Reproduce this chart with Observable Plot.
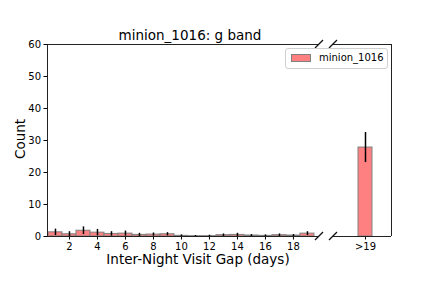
<!DOCTYPE html>
<html>
<head>
<meta charset="utf-8">
<script src="https://cdn.jsdelivr.net/npm/d3@7"></script>
<script src="https://cdn.jsdelivr.net/npm/@observablehq/plot@0.6"></script>
<style>
  body { margin: 0; background: white; font-family: "DejaVu Sans", sans-serif; }
  #wrap { position: relative; width: 423px; height: 282px; overflow: hidden; }
  #wrap > svg, #wrap > div { position: absolute; }
  .txt { color: #000; white-space: nowrap; line-height: 16px; }
</style>
</head>
<body>
<div id="wrap"></div>
<script>
const title = "minion_1016: g band";
const xLabel = "Inter-Night Visit Gap (days)";
const yLabel = "Count";
const seriesName = "minion_1016";

const days = [1,2,3,4,5,6,7,8,9,10,11,12,13,14,15,16,17,18,19];
const counts = [1.3,0.7,1.8,1.2,0.8,0.9,0.5,0.6,0.7,0.2,0.1,0.1,0.4,0.5,0.3,0.2,0.4,0.3,0.9];
const errs   = [1.0,0.8,1.2,1.0,0.7,0.8,0.5,0.5,0.5,0.3,0.2,0.3,0.4,0.5,0.3,0.3,0.4,0.3,0.6];
const overPos = [20];
const overCounts = [27.8];
const overErrs = [4.7];
const overTickLabel = ">19";

const xLeftDomain = [0.43, 19.86];
const xLeftTicks = [2,4,6,8,10,12,14,16,18];
const xRightDomain = [17.64, 21.86];
const yDomain = [0, 60];
const yTicks = [0,10,20,30,40,50,60];

const left = days.map((d,i) => ({day: d, count: counts[i], err: errs[i]}));
const right = overPos.map((d,i) => ({day: d, count: overCounts[i], err: overErrs[i]}));

const barFill = "#ff8080";
const barStroke = "#808080";
const common = {
  height: 282, marginTop: 44, marginBottom: 46,
  style: "background: transparent; font-family: 'DejaVu Sans', sans-serif; font-size: 10px; color: #000; overflow: visible;",
  y: {domain: yDomain, ticks: yTicks, axis: null}
};

const pLeft = Plot.plot({
  ...common,
  width: 330, marginLeft: 47, marginRight: 11,
  x: {domain: xLeftDomain, axis: null},
  marks: [
    Plot.rectY(left, {x1: d => d.day - 0.5, x2: d => d.day + 0.5, y: "count", fill: barFill, stroke: barStroke, strokeWidth: 1, inset: 0}),
    Plot.ruleX(left, {x: "day", y1: d => d.count - d.err, y2: d => d.count + d.err, stroke: "black", strokeWidth: 1.5, clip: true}),
    Plot.axisY({ticks: yTicks, tickSize: 3.5, tickPadding: 3, label: null, fontSize: 10}),
    Plot.axisX({ticks: xLeftTicks, tickSize: 3.5, tickPadding: 3, label: null, fontSize: 10}),
    Plot.ruleY([yDomain[0]], {stroke: "#222", strokeWidth: 1}),
    Plot.ruleY([yDomain[1]], {stroke: "#222", strokeWidth: 1}),
    Plot.ruleX([xLeftDomain[0]], {stroke: "#222", strokeWidth: 1})
  ]
});
pLeft.style.left = "0px"; pLeft.style.top = "0px";

const pRight = Plot.plot({
  ...common,
  width: 423, marginLeft: 332, marginRight: 32,
  x: {domain: xRightDomain, axis: null},
  marks: [
    Plot.rectY(right, {x1: d => d.day - 0.5, x2: d => d.day + 0.5, y: "count", fill: barFill, stroke: barStroke, strokeWidth: 1, inset: 0}),
    Plot.ruleX(right, {x: "day", y1: d => d.count - d.err, y2: d => d.count + d.err, stroke: "black", strokeWidth: 1.5, clip: true}),
    Plot.axisX({ticks: overPos, tickFormat: () => overTickLabel, tickSize: 3.5, tickPadding: 3, label: null, fontSize: 10}),
    Plot.ruleY([yDomain[0]], {stroke: "#222", strokeWidth: 1}),
    Plot.ruleY([yDomain[1]], {stroke: "#222", strokeWidth: 1}),
    Plot.ruleX([xRightDomain[1]], {stroke: "#222", strokeWidth: 1})
  ]
});
pRight.style.left = "0px"; pRight.style.top = "0px";

const wrap = document.getElementById("wrap");
wrap.appendChild(pLeft);
wrap.appendChild(pRight);

// break marks
const ov = d3.create("svg").attr("width", 423).attr("height", 282).style("left", "0px").style("top", "0px").style("position", "absolute").style("overflow", "visible");
const marks = [[319, 44], [333, 44], [319, 236], [333, 236]];
ov.selectAll("line").data(marks).join("line")
  .attr("x1", d => d[0] - 4).attr("y1", d => d[1] + 4)
  .attr("x2", d => d[0] + 4).attr("y2", d => d[1] - 4)
  .attr("stroke", "#111").attr("stroke-width", 1.2);
wrap.appendChild(ov.node());

function addText(str, css) {
  const d = document.createElement("div");
  d.className = "txt";
  d.textContent = str;
  Object.assign(d.style, css);
  wrap.appendChild(d);
  return d;
}
addText(title, {left: "190px", top: "27px", transform: "translateX(-50%)", fontSize: "13.5px"});
addText(xLabel, {left: "198px", top: "251px", transform: "translateX(-50%)", fontSize: "13.5px"});
addText(yLabel, {left: "20px", top: "139px", transform: "translate(-50%,-50%) rotate(-90deg)", fontSize: "13.5px"});

// legend
const leg = document.createElement("div");
Object.assign(leg.style, {left: "285px", top: "48px", width: "103px", height: "21px", border: "1px solid #d0d0d0", borderRadius: "3px", background: "rgba(255,255,255,0.8)", boxSizing: "border-box"});
wrap.appendChild(leg);
const sw = document.createElement("div");
Object.assign(sw.style, {left: "291px", top: "54px", width: "20px", height: "8px", background: barFill, border: "1px solid " + barStroke, boxSizing: "border-box"});
wrap.appendChild(sw);
addText(seriesName, {left: "319px", top: "50px", fontSize: "10px"});
</script>
</body>
</html>
